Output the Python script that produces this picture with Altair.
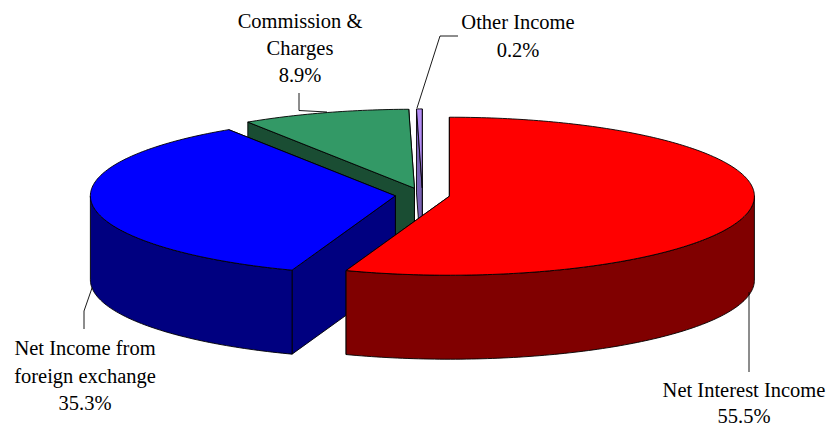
import math
import altair as alt
import pandas as pd

# ---- chart values -------------------------------------------------------
names = ["Net Interest Income", "Net Income from foreign exchange",
         "Commission & Charges", "Other Income"]
shares = [55.5, 35.3, 8.9, 0.3]          # slice sweep (percent of the circle)
top_colors = ["#FF0000", "#0000FF", "#339966", "#B48CF5"]
side_colors = ["#800000", "#000080", "#1A4D33", "#7A62B4"]

label_lines = [["Net Interest Income", "55.5%"],
               ["Net Income from", "foreign exchange", "35.3%"],
               ["Commission &", "Charges", "8.9%"],
               ["Other Income", "0.2%"]]

# ---- pie layout (page pixels) -------------------------------------------
CX, CY = 422.5, 195.0      # pie centre
RX, RY = 305.0, 79.0       # ellipse radii of the tilted disc
DEPTH = 84.0               # wall height
EXPLODE = 0.0895           # slice explosion, fraction of the radius
label_xy = [(744, [390.5, 417]), (85, [348.5, 376.5, 404]),
            (300, [22, 49, 76]), (518, [22.5, 50.5])]
leaders = [[(749, 292), (749, 372)],
           [(92, 288), (84, 311), (84, 329)],
           [(327, 112), (299, 110.5), (299, 93)],
           [(417, 108), (440, 36), (458, 36)]]

W, H = 818, 418
x_scale = alt.Scale(domain=[8, 8 + W], nice=False, zero=False)
y_scale = alt.Scale(domain=[8 + H, 8], nice=False, zero=False)


def pt(cx, cy, deg, dz=0.0):
    r = math.radians(deg)
    return (cx + RX * math.sin(r), cy - RY * math.cos(r) + dz)


def arc(cx, cy, a0, a1, dz=0.0):
    n = max(2, int(abs(a1 - a0) / 1.0) + 1)
    return [pt(cx, cy, a0 + (a1 - a0) * i / n, dz) for i in range(n + 1)]


def poly(points, fill):
    closed = list(points) + [points[0]]
    df = pd.DataFrame({"x": [p[0] for p in closed], "y": [p[1] for p in closed],
                       "i": list(range(len(closed)))})
    return alt.Chart(df).mark_line(
        fill=fill, filled=True, stroke="black", strokeWidth=0.9, strokeJoin="miter"
    ).encode(
        x=alt.X("x:Q", scale=x_scale, axis=None),
        y=alt.Y("y:Q", scale=y_scale, axis=None),
        order="i:Q",
    )


layers = []
starts = []
acc = 0.0
for s in shares:
    starts.append(acc)
    acc += s
total = acc
slices = []
for s0, s, top, side in zip(starts, shares, top_colors, side_colors):
    a0 = 360.0 * s0 / total
    a1 = 360.0 * (s0 + s) / total
    mid = math.radians((a0 + a1) / 2)
    cx = CX + EXPLODE * RX * math.sin(mid)
    cy = CY - EXPLODE * RY * math.cos(mid)
    faces = []
    for a in (a1, a0):
        p = pt(cx, cy, a)
        faces.append(poly([(cx, cy), p, (p[0], p[1] + DEPTH), (cx, cy + DEPTH)], side))
    lo, hi = max(a0, 90.0), min(a1, 270.0)
    if lo < hi:
        upper = arc(cx, cy, lo, hi)
        lower = arc(cx, cy, lo, hi, DEPTH)
        faces.append(poly(upper + lower[::-1], side))
    faces.append(poly([(cx, cy)] + arc(cx, cy, a0, a1), top))
    slices.append(faces)

for faces in reversed(slices):   # back to front: small slices first
    layers.extend(faces)

for path in leaders:
    df = pd.DataFrame({"x": [p[0] for p in path], "y": [p[1] for p in path],
                       "i": list(range(len(path)))})
    layers.append(alt.Chart(df).mark_line(color="black", strokeWidth=0.9).encode(
        x=alt.X("x:Q", scale=x_scale, axis=None),
        y=alt.Y("y:Q", scale=y_scale, axis=None),
        order="i:Q"))

rows = []
for lines, (lx, ys) in zip(label_lines, label_xy):
    for line, ly in zip(lines, ys):
        rows.append({"x": lx, "y": ly, "t": line})
labels = alt.Chart(pd.DataFrame(rows)).mark_text(
    font="Liberation Serif", fontSize=20.5, color="black", align="center", baseline="middle",
    clip=False
).encode(
    x=alt.X("x:Q", scale=x_scale, axis=None),
    y=alt.Y("y:Q", scale=y_scale, axis=None),
    text="t:N")
layers.append(labels)

chart = alt.layer(*layers).properties(
    width=W, height=H, padding=0, autosize=alt.AutoSizeParams(type="none"), background="white"
).configure_view(stroke=None)

chart.save("out.html", embed_options={"renderer": "svg", "actions": False})
